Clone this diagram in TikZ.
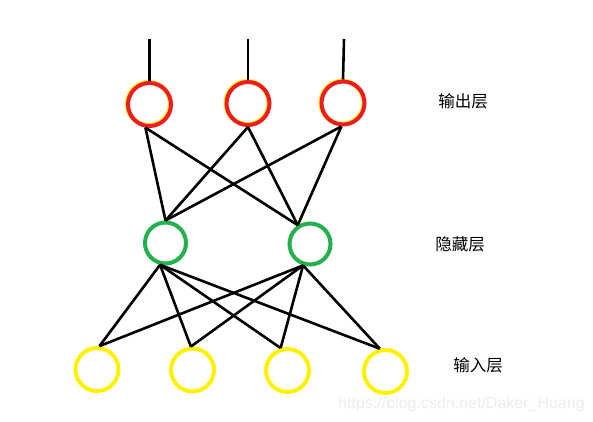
\documentclass[tikz,border=0pt]{standalone}
\usepackage{fontspec}
\setmainfont{Liberation Sans}
\newfontfamily\cjk{Noto Sans CJK SC}
\definecolor{pred}{HTML}{ED1C24}
\definecolor{pgreen}{HTML}{22B14C}
\definecolor{pyellow}{HTML}{FFF200}
\begin{document}
\begin{tikzpicture}[x=1pt,y=-1pt,
  neuron/.style={circle,minimum size=43pt,inner sep=0pt,line width=4pt},
  outn/.style={neuron,draw=pred},
  hidn/.style={neuron,draw=pgreen,minimum size=41pt},
  inn/.style={neuron,draw=pyellow},
  shade/.style={neuron,draw=pyellow,line width=4.5pt},
  link/.style={line width=2.6pt,black},
  lbl/.style={font=\cjk\fontsize{16.5}{19}\selectfont,inner sep=0pt}]
\useasboundingbox[fill=white] (0,0) rectangle (593,422);
% yellow under-rings of output layer
\node[shade] at (148.8,103.8) {};
\node[shade] at (247.3,102.8) {};
\node[shade] at (342.3,102.5) {};
% output layer
\node[outn] (o1) at (149.5,104.5) {};
\node[outn] (o2) at (248,103.5) {};
\node[outn] (o3) at (343,103) {};
% hidden layer
\node[hidn] (h1) at (165.5,243) {};
\node[hidn] (h2) at (310,244) {};
% input layer
\node[inn] (i1) at (97,369.5) {};
\node[inn] (i2) at (192.5,370) {};
\node[inn] (i3) at (287.5,370.5) {};
\node[inn] (i4) at (385.5,371.5) {};
% output lines
\coordinate (t1) at (149.5,39);
\coordinate (t2) at (248,39);
\coordinate (t3) at (344,39);
\draw[link] (t1) -- (o1.north);
\draw[link] (t2) -- (o2.north);
\draw[link] (t3) -- (o3.north);
% output to hidden
\foreach \o/\a in {o1/260,o2/270,o3/266}{
  \draw[link] (\o.\a) -- (h1.north);
  \draw[link] (\o.\a) -- (h2.123);
}
% hidden to input
\foreach \h/\b in {h1/256,h2/252}{
  \draw[link] (\h.\b) -- (i1.84);
  \draw[link] (\h.\b) -- (i2.94);
  \draw[link] (\h.\b) -- (i3.107);
  \draw[link] (\h.\b) -- (i4.104);
}
% labels
\node[lbl] (l1) at (463,101.5) {输出层};
\node[lbl] (l2) at (460,244) {隐藏层};
\node[lbl] (l3) at (478,365) {输入层};
\node[font=\fontsize{16}{18}\selectfont,text=black!7,inner sep=0pt] (wm) at (461.5,404) {https://blog.csdn.net/Daker\_Huang};
\end{tikzpicture}
\end{document}
